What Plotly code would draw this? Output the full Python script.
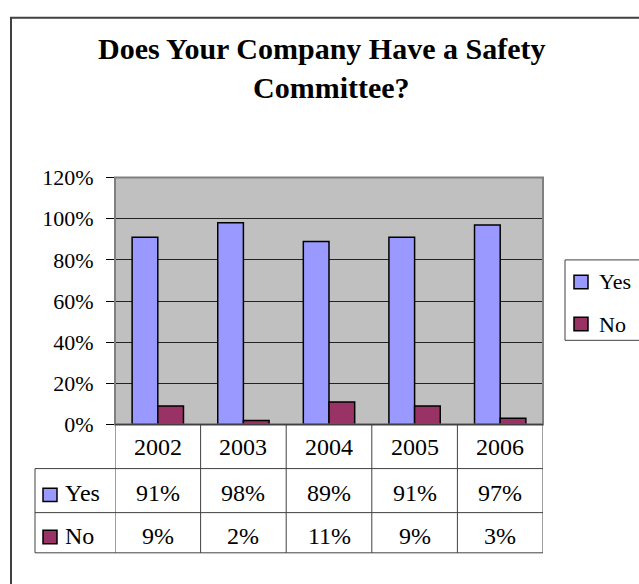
import plotly.graph_objects as go

years = ["2002", "2003", "2004", "2005", "2006"]
yes_vals = [0.91, 0.98, 0.89, 0.91, 0.97]
no_vals = [0.09, 0.02, 0.11, 0.09, 0.03]
yes_labels = ["91%", "98%", "89%", "91%", "97%"]
no_labels = ["9%", "2%", "11%", "9%", "3%"]
series_names = ["Yes", "No"]
colors = ["#9999FF", "#993366"]
title_lines = ["Does Your Company Have a Safety", "Committee?"]

W, H = 639, 584
FONT = "Liberation Serif"


def px(x):
    return x / W


def py(y):
    return (H - y) / H


PL, PR, PT, PB = 115, 543, 173, 431
ROW1, ROW2, ROW3 = 477, 523, 565
TL = 35
LINE = "#404040"

fig = go.Figure()
for name, vals, col in zip(series_names, [yes_vals, no_vals], colors):
    fig.add_trace(go.Bar(
        x=years, y=vals, name=name,
        marker=dict(color=col, line=dict(color="black", width=1.5)),
        showlegend=False, hoverinfo="skip",
    ))

shapes = []
# outer chart frame (extends beyond right and bottom edges)
shapes.append(dict(type="rect", xref="paper", yref="paper",
                   x0=px(11), x1=px(700), y0=py(650), y1=py(6),
                   line=dict(color=LINE, width=2), layer="below"))
# plot area border
shapes.append(dict(type="rect", xref="paper", yref="paper",
                   x0=px(PL), x1=px(PR), y0=py(PB), y1=py(PT),
                   line=dict(color="#808080", width=2), layer="above"))
# table lines
shapes.append(dict(type="line", xref="paper", yref="paper",
                   x0=px(PL), x1=px(PR), y0=py(PB), y1=py(PB),
                   line=dict(color=LINE, width=1.5), layer="above"))
for yy in [ROW1, ROW2, ROW3]:
    shapes.append(dict(type="line", xref="paper", yref="paper",
                       x0=px(TL), x1=px(PR), y0=py(yy), y1=py(yy),
                       line=dict(color=LINE, width=1)))
shapes.append(dict(type="line", xref="paper", yref="paper",
                   x0=px(TL), x1=px(TL), y0=py(ROW1), y1=py(ROW3),
                   line=dict(color=LINE, width=1)))
for i in range(len(years) + 1):
    shapes.append(dict(type="line", xref="x", yref="paper",
                       x0=i - 0.5, x1=i - 0.5, y0=py(PB), y1=py(ROW3),
                       line=dict(color=LINE, width=1)))

annotations = []
# title
for line_text, xc, yc in zip(title_lines, [322, 331], [38, 79]):
    annotations.append(dict(text="<b>" + line_text + "</b>", xref="paper", yref="paper",
                            x=px(xc), y=py(yc), xanchor="center", yanchor="middle",
                            showarrow=False, font=dict(family=FONT, size=30, color="black")))

# table text
text_centers = [454, 503, 547]
for i, yr in enumerate(years):
    for txt, yc in zip([yr, yes_labels[i], no_labels[i]], text_centers):
        annotations.append(dict(text=txt, xref="x", yref="paper", x=i, y=py(yc),
                                xanchor="center", yanchor="middle", showarrow=False,
                                font=dict(family=FONT, size=24, color="black")))

# table legend keys
for name, col, yc, sc in zip(series_names, colors, text_centers[1:], [504.5, 548.5]):
    shapes.append(dict(type="rect", xref="paper", yref="paper",
                       x0=px(43), x1=px(57), y0=py(sc + 7), y1=py(sc - 7),
                       fillcolor=col, line=dict(color="black", width=1.5)))
    annotations.append(dict(text=name, xref="paper", yref="paper", x=px(63), y=py(yc),
                            xanchor="left", yanchor="middle", showarrow=False,
                            font=dict(family=FONT, size=24, color="black")))

# right-hand legend
shapes.append(dict(type="rect", xref="paper", yref="paper",
                   x0=px(565), x1=px(720), y0=py(343), y1=py(259),
                   line=dict(color=LINE, width=1), fillcolor="white", layer="below"))
for name, col, yc in zip(series_names, colors, [282, 326]):
    shapes.append(dict(type="rect", xref="paper", yref="paper",
                       x0=px(574), x1=px(588), y0=py(yc + 7), y1=py(yc - 7),
                       fillcolor=col, line=dict(color="black", width=1.5)))
    annotations.append(dict(text=name, xref="paper", yref="paper", x=px(597), y=py(yc),
                            xanchor="left", yanchor="middle", showarrow=False,
                            font=dict(family=FONT, size=22, color="black")))

fig.update_layout(
    width=W, height=H,
    margin=dict(l=0, r=0, t=0, b=0),
    paper_bgcolor="white",
    plot_bgcolor="#C0C0C0",
    barmode="group", bargap=0.4, bargroupgap=0,
    showlegend=False,
    shapes=shapes,
    annotations=annotations,
    xaxis=dict(domain=[px(PL), px(PR)], range=[-0.5, 4.5], type="category",
               showticklabels=False, ticks="", showgrid=False, zeroline=False),
    yaxis=dict(domain=[py(PB), py(PT)], range=[0, 1.2], dtick=0.2, tick0=0,
               tickformat=".0%", ticks="outside", ticklen=8, tickcolor="black",
               tickwidth=1, showgrid=True, gridcolor="#222222", gridwidth=1,
               zeroline=False, showline=False, ticklabelstandoff=8,
               tickfont=dict(family=FONT, size=22, color="black")),
)

fig.write_html("out.html")
